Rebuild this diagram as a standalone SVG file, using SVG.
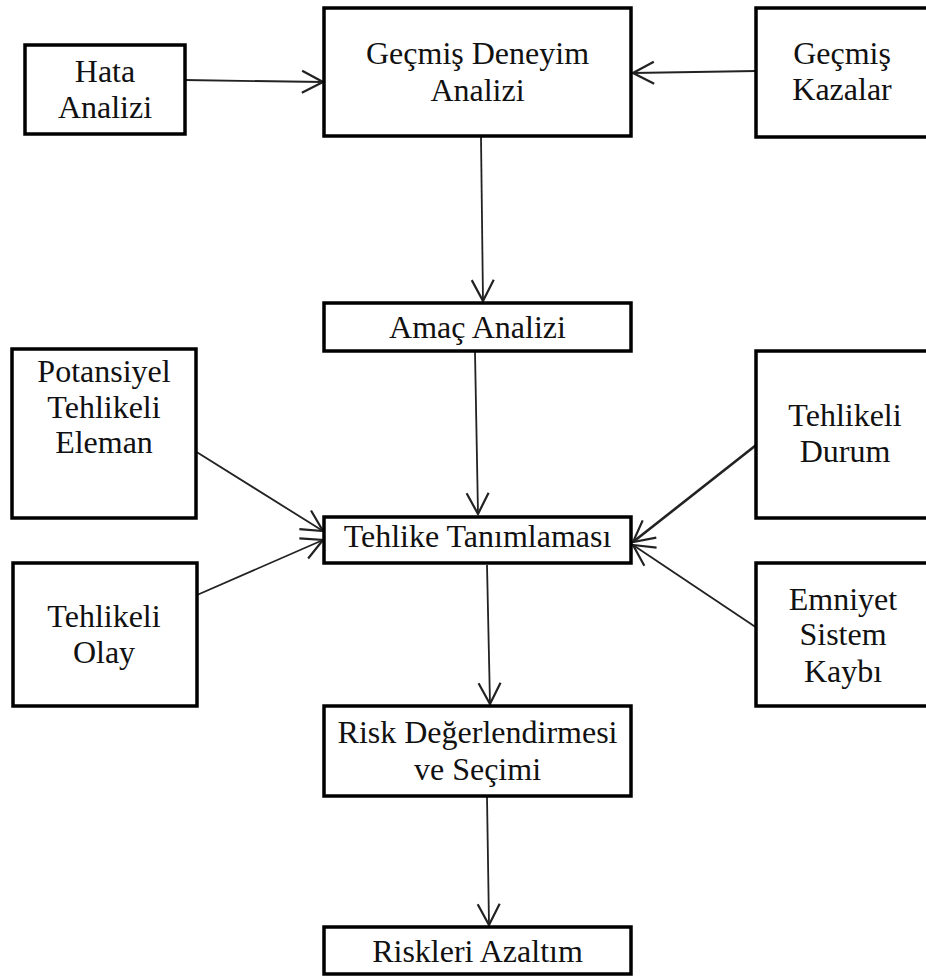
<svg xmlns="http://www.w3.org/2000/svg" width="926" height="976" viewBox="0 0 926 976">
<style>
.box{fill:#fff;stroke:#000;stroke-width:3.5}
.t{font-family:"Liberation Serif","Times New Roman",serif;font-size:32px;fill:#111;text-anchor:middle}
.c{fill:none;stroke:#222;stroke-width:1.8;marker-end:url(#arr)}
.thick{stroke-width:2.6}
</style>
<defs>
<marker id="arr" markerUnits="userSpaceOnUse" markerWidth="24" markerHeight="26" viewBox="0 0 24 26" refX="22" refY="13" orient="auto">
<path d="M1,2 L22,13 L1,24" fill="none" stroke="#222" stroke-width="2.2"/>
</marker>
</defs>
<rect width="926" height="976" fill="#fff"/>
<g id="connectors">
<path class="c" d="M184,80 L323,82"/>
<path class="c" d="M756,71 L633,73"/>
<path class="c" d="M481,137 L483,301"/>
<path class="c" d="M475,352 L478,514"/>
<path class="c" d="M195,451 L323,531"/>
<path class="c" d="M197,595 L323,540"/>
<path class="c thick" d="M760,442 L633,542"/>
<path class="c" d="M760,630 L633,545"/>
<path class="c" d="M487,565 L490,704"/>
<path class="c" d="M487,797 L489,925"/>
</g>
<g id="hata-analizi">
<rect class="box" x="25" y="45" width="160" height="89"/>
<text class="t" x="105" y="82">Hata</text>
<text class="t" x="105" y="118">Analizi</text>
</g>
<g id="gecmis-deneyim-analizi">
<rect class="box" x="324" y="8" width="307" height="128"/>
<text class="t" x="477.5" y="64">Geçmiş Deneyim</text>
<text class="t" x="477.5" y="101">Analizi</text>
</g>
<g id="gecmis-kazalar">
<rect class="box" x="756" y="8" width="176" height="129"/>
<text class="t" x="842" y="64">Geçmiş</text>
<text class="t" x="842" y="100">Kazalar</text>
</g>
<g id="amac-analizi">
<rect class="box" x="324" y="303" width="307" height="48"/>
<text class="t" x="477.5" y="338">Amaç Analizi</text>
</g>
<g id="potansiyel-tehlikeli-eleman">
<rect class="box" x="12" y="349" width="184" height="169"/>
<text class="t" x="104" y="382">Potansiyel</text>
<text class="t" x="104" y="418">Tehlikeli</text>
<text class="t" x="104" y="453">Eleman</text>
</g>
<g id="tehlikeli-durum">
<rect class="box" x="756" y="351" width="176" height="167"/>
<text class="t" x="845" y="426">Tehlikeli</text>
<text class="t" x="845" y="462">Durum</text>
</g>
<g id="tehlike-tanimlamasi">
<rect class="box" x="324" y="517" width="307" height="46"/>
<text class="t" x="477.5" y="547">Tehlike Tanımlaması</text>
</g>
<g id="tehlikeli-olay">
<rect class="box" x="13" y="563" width="184" height="143"/>
<text class="t" x="104" y="627">Tehlikeli</text>
<text class="t" x="104" y="663">Olay</text>
</g>
<g id="emniyet-sistem-kaybi">
<rect class="box" x="756" y="563" width="176" height="143"/>
<text class="t" x="843" y="610">Emniyet</text>
<text class="t" x="843" y="645">Sistem</text>
<text class="t" x="843" y="682">Kaybı</text>
</g>
<g id="risk-degerlendirmesi">
<rect class="box" x="324" y="706" width="307" height="90"/>
<text class="t" x="477.5" y="743">Risk Değerlendirmesi</text>
<text class="t" x="477.5" y="780">ve Seçimi</text>
</g>
<g id="riskleri-azaltim">
<rect class="box" x="324" y="927" width="307" height="47"/>
<text class="t" x="477.5" y="962">Riskleri Azaltım</text>
</g>
</svg>
